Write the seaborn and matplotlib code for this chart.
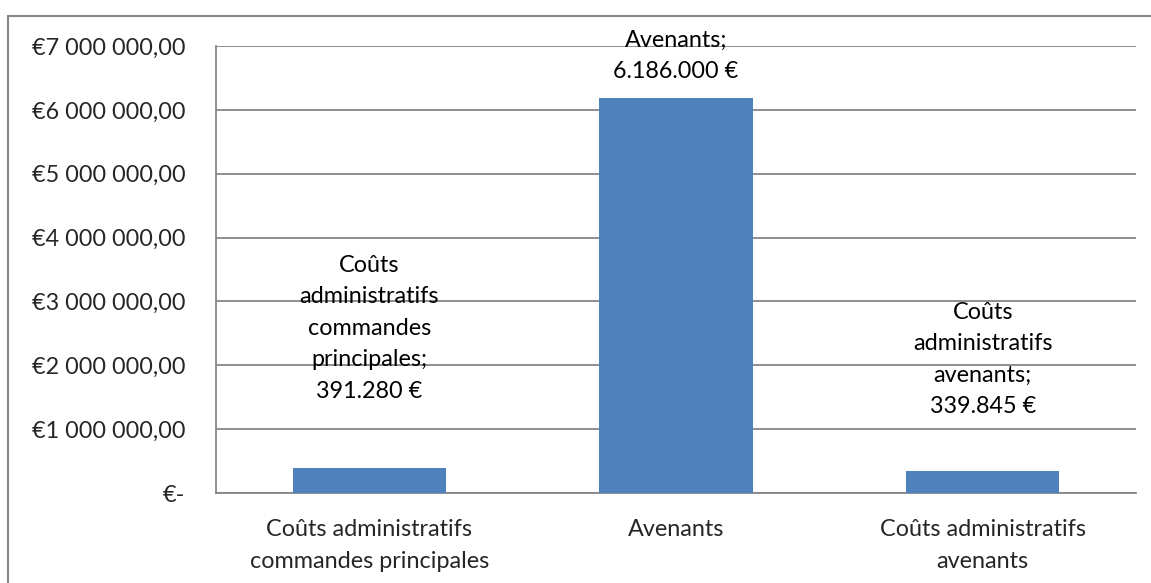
import matplotlib
matplotlib.use("Agg")
import matplotlib.pyplot as plt
from matplotlib.patches import Rectangle
from matplotlib.ticker import FixedLocator
import pandas as pd
import seaborn as sns

# Données du graphique
categories = ["Coûts administratifs\ncommandes principales",
              "Avenants",
              "Coûts administratifs\navenants"]
montants = [391280, 6186000, 339845]
noms_etiquettes = ["Coûts\nadministratifs\ncommandes\nprincipales;",
                   "Avenants;",
                   "Coûts\nadministratifs\navenants;"]
y_ticks = [0, 1e6, 2e6, 3e6, 4e6, 5e6, 6e6, 7e6]
y_tick_labels = ["€-", "€1 000 000,00", "€2 000 000,00", "€3 000 000,00",
                 "€4 000 000,00", "€5 000 000,00", "€6 000 000,00",
                 "€7 000 000,00"]

# centre vertical des étiquettes (unités de données)
pos_etiquettes = [2.58e6, 6.84e6, 2.09e6]

sns.set_style("white")
plt.rcParams["font.family"] = ["Lato", "DejaVu Sans"]

GRIS = "#868686"
BLEU = "#4F81BD"
TAILLE = 16.8

df = pd.DataFrame({"categorie": categories, "montant": montants})

fig = plt.figure(figsize=(11.51, 5.83), dpi=100)
ax = fig.add_axes([216 / 1151, 1 - 493 / 583, (1136 - 216) / 1151, (493 - 46) / 583])

sns.barplot(data=df, x="categorie", y="montant", color=BLEU, width=0.5,
            saturation=1, linewidth=0, ax=ax, zorder=3)

ax.set_xlim(-0.5, 2.5)
ax.set_ylim(0, 7e6)
ax.set_yticks(y_ticks)
ax.set_yticklabels(y_tick_labels, fontsize=TAILLE)
ax.set_xticks(range(len(categories)))
ax.set_xticklabels(categories, fontsize=TAILLE, linespacing=1.65)
ax.xaxis.set_minor_locator(FixedLocator([-0.5, 0.5, 1.5, 2.5]))
ax.tick_params(axis="x", which="major", length=0, pad=19)
ax.tick_params(axis="x", which="minor", length=5, color=GRIS, width=1.3,
               direction="out")
ax.tick_params(axis="y", length=5, color=GRIS, width=1.3, pad=17,
               direction="out")
ax.set_xlabel("")
ax.set_ylabel("")

ax.grid(axis="y", color=GRIS, linewidth=1.3, zorder=0)
ax.set_axisbelow(True)
for s in ["top", "right"]:
    ax.spines[s].set_visible(False)
for s in ["left", "bottom"]:
    ax.spines[s].set_color(GRIS)
    ax.spines[s].set_linewidth(1.3)

# étiquettes de données
for i, (nom, val, yp) in enumerate(zip(noms_etiquettes, montants, pos_etiquettes)):
    txt = nom + "\n" + f"{val:,.0f}".replace(",", ".") + " €"
    ax.text(i, yp, txt, ha="center", va="center", fontsize=TAILLE,
            linespacing=1.62, color="black", zorder=5)

# cadre du graphique
fig.patches.append(Rectangle((8 / 1151, -0.2), 2, 1 - 16 / 583 + 0.2,
                             transform=fig.transFigure, fill=False,
                             edgecolor=GRIS, linewidth=1.5))

fig.savefig("out.png", dpi=100)
